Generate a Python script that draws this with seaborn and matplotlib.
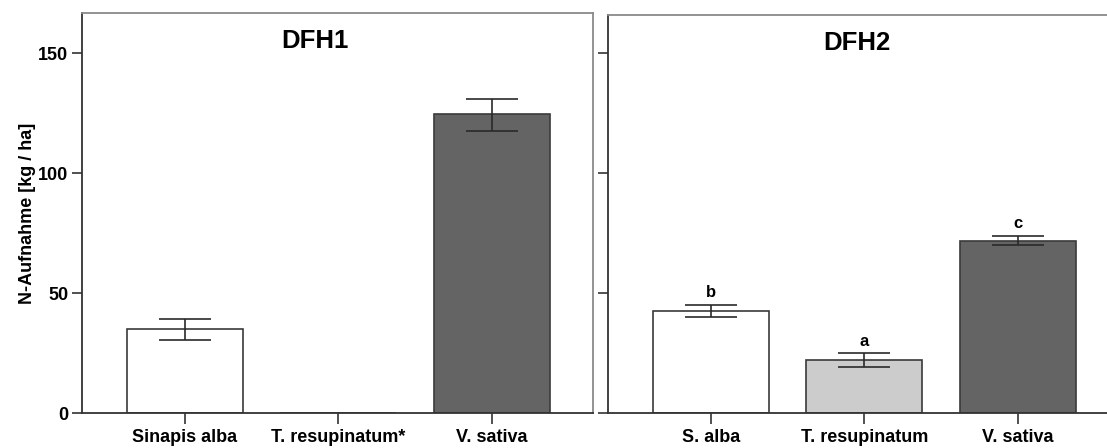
import matplotlib
matplotlib.use("Agg")
import numpy as np
import pandas as pd
import seaborn as sns
from matplotlib import pyplot as plt

# DFH1
species_dfh1 = ["Sinapis alba", "T. resupinatum*", "V. sativa"]
n_dfh1 = [35.0, 0.0, 124.4]
lo_dfh1 = [30.4, 0.0, 117.5]
hi_dfh1 = [39.2, 0.0, 131.0]

# DFH2
species_dfh2 = ["S. alba", "T. resupinatum", "V. sativa"]
n_dfh2 = [42.5, 22.1, 71.8]
lo_dfh2 = [40.1, 19.0, 69.9]
hi_dfh2 = [45.0, 24.9, 73.8]
letters_dfh2 = ["b", "a", "c"]

y_ticks = [0, 50, 100, 150]
bar_colors = ["#ffffff", "#cccccc", "#646464"]

sns.set_style("white")
plt.rcParams['font.family'] = ['Liberation Sans', 'DejaVu Sans']
plt.rcParams['font.weight'] = 'bold'
plt.rcParams['text.color'] = 'black'
plt.rcParams['axes.labelcolor'] = 'black'
plt.rcParams['xtick.color'] = 'black'
plt.rcParams['ytick.color'] = 'black'

W, H = 1107, 448
fig = plt.figure(figsize=(W / 100, H / 100), dpi=100)
ax1 = fig.add_axes([82 / W, (H - 413) / H, 511 / W, 400 / H])
ax2 = fig.add_axes([608 / W, (H - 413) / H, 511 / W, 398 / H])


def panel(ax, species, vals, lo, hi, title, title_x, ymax, show_labels):
    df = pd.DataFrame({"species": species, "value": vals})
    sns.barplot(df, x="species", y="value", hue="species",
                palette=dict(zip(species, bar_colors)), legend=False,
                width=0.755, edgecolor="#3a3a3a", linewidth=1.2,
                errorbar=None, ax=ax)
    vals = np.array(vals)
    lo = np.array(lo)
    hi = np.array(hi)
    idx = np.where(hi > lo)[0]
    ax.errorbar(idx, vals[idx], yerr=[vals[idx] - lo[idx], hi[idx] - vals[idx]],
                fmt="none", ecolor="#2a2a2a", elinewidth=1.2, capsize=18.5,
                capthick=1.2)
    ax.set_xlim(-0.67, 2.66)
    ax.set_ylim(0, ymax)
    ax.set_yticks(y_ticks)
    ax.set_xlabel("")
    ax.set_ylabel("")
    ax.tick_params(axis="both", direction="out", length=7.5, width=1.2,
                   color="#333333", labelcolor="black", labelsize=13, pad=2.5,
                   bottom=True, left=True)
    ax.tick_params(axis="x", length=8, pad=3.5)
    if not show_labels:
        ax.set_yticklabels([])
    for lab in ax.get_xticklabels() + ax.get_yticklabels():
        lab.set_fontweight("bold")
    ax.spines["left"].set_color("#333333")
    ax.spines["bottom"].set_color("#333333")
    ax.spines["top"].set_color("#8a8a8a")
    ax.spines["right"].set_color("#8a8a8a")
    for s in ax.spines.values():
        s.set_linewidth(1.3)
    ax.text(title_x, 0.93, title, transform=ax.transAxes, ha="center",
            va="center", fontsize=18.5, fontweight="bold")


panel(ax1, species_dfh1, n_dfh1, lo_dfh1, hi_dfh1, "DFH1", 0.456, 166.7, True)
panel(ax2, species_dfh2, n_dfh2, lo_dfh2, hi_dfh2, "DFH2", 0.488, 165.8, False)

for i, (h, letter) in enumerate(zip(hi_dfh2, letters_dfh2)):
    ax2.text(i, h + 5, letter, ha="center", va="center", fontsize=12,
             fontweight="bold")

ax1.set_ylabel("N-Aufnahme [kg / ha]", fontsize=13, fontweight="bold",
               labelpad=1)

fig.savefig("out.png", dpi=100)
